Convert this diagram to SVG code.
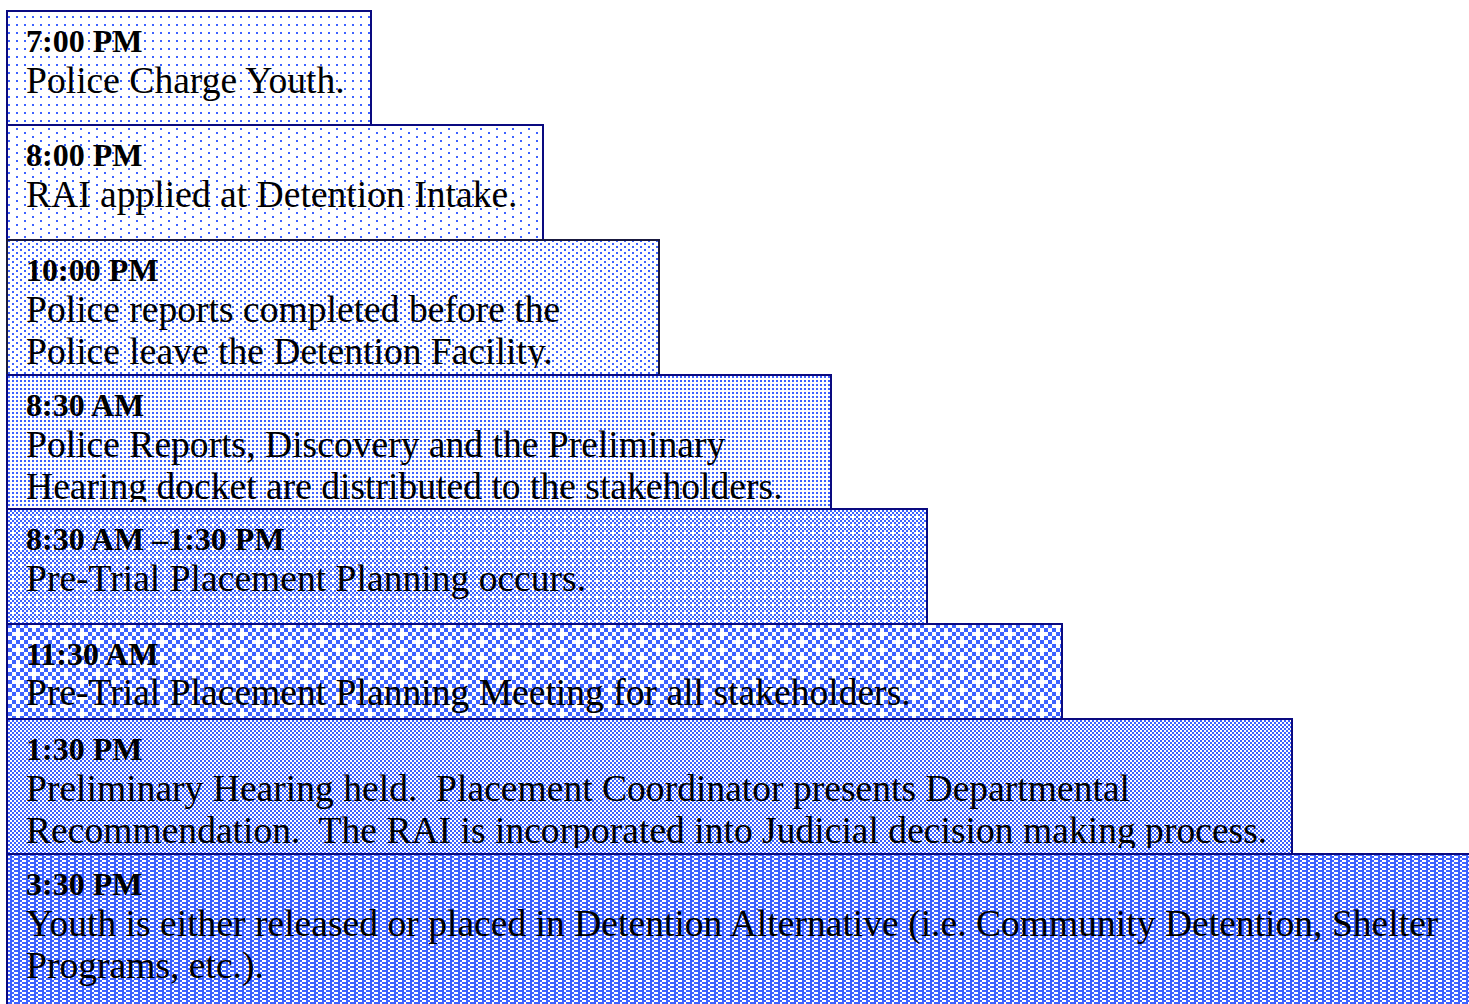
<svg xmlns="http://www.w3.org/2000/svg" width="1469" height="1004" viewBox="0 0 1469 1004">
<style>
.box{stroke:#0a0a80;stroke-width:2}
.b3{stroke:#1a1a40}
.t{font-family:"Liberation Serif","Times New Roman",serif;font-weight:bold;font-size:32px;fill:#000}
.d{font-family:"Liberation Serif","Times New Roman",serif;font-size:37.6px;fill:#000;white-space:pre}
</style>
<defs>
<pattern id="p1" patternUnits="userSpaceOnUse" width="8" height="8"><rect width="8" height="8" fill="#fff"/><rect x="0" y="0" width="2" height="2" fill="#3d62ff"/></pattern>
<pattern id="p2" patternUnits="userSpaceOnUse" width="16" height="8"><rect width="16" height="8" fill="#fff"/><rect x="0" y="0" width="2" height="2" fill="#3d62ff"/><rect x="8" y="4" width="2" height="2" fill="#3d62ff"/></pattern>
<pattern id="p3" patternUnits="userSpaceOnUse" width="8" height="6"><rect width="8" height="6" fill="#fff"/><rect x="0" y="0" width="2" height="2" fill="#3d62ff"/><rect x="4" y="3" width="2" height="2" fill="#3d62ff"/></pattern>
<pattern id="p4" patternUnits="userSpaceOnUse" width="4" height="4"><rect width="4" height="4" fill="#fff"/><rect x="0" y="0" width="2" height="2" fill="#3d62ff"/></pattern>
<pattern id="p5" patternUnits="userSpaceOnUse" width="8" height="8"><rect width="8" height="8" fill="#fff"/><g fill="#3d62ff"><rect x="0" y="0" width="2" height="2"/><rect x="4" y="0" width="2" height="2"/><rect x="2" y="2" width="2" height="2"/><rect x="6" y="2" width="2" height="2"/><rect x="0" y="4" width="2" height="2"/><rect x="2" y="6" width="2" height="2"/><rect x="6" y="6" width="2" height="2"/></g></pattern>
<pattern id="p6" patternUnits="userSpaceOnUse" width="32" height="16"><rect width="32" height="16" fill="#fff"/>
<g fill="#3d62ff">
<rect x="8" y="0" width="4" height="4"/><rect x="16" y="0" width="4" height="4"/><rect x="24" y="0" width="4" height="4"/>
<rect x="4" y="4" width="4" height="4"/><rect x="12" y="4" width="4" height="4"/><rect x="20" y="4" width="4" height="4"/><rect x="28" y="4" width="4" height="4"/>
<rect x="0" y="8" width="4" height="4"/><rect x="8" y="8" width="4" height="4"/><rect x="24" y="8" width="4" height="4"/>
<rect x="4" y="12" width="4" height="4"/><rect x="12" y="12" width="4" height="4"/><rect x="20" y="12" width="4" height="4"/><rect x="28" y="12" width="4" height="4"/>
</g></pattern>
<pattern id="p7" patternUnits="userSpaceOnUse" width="4" height="4"><rect width="4" height="4" fill="#fff"/><rect x="0" y="0" width="2" height="2" fill="#3d62ff"/><rect x="2" y="2" width="2" height="2" fill="#3d62ff"/></pattern>
<pattern id="p8" patternUnits="userSpaceOnUse" width="8" height="4"><rect width="8" height="4" fill="#3d62ff"/><rect x="0" y="0" width="2" height="2" fill="#fff"/><rect x="4" y="2" width="2" height="2" fill="#fff"/><rect x="6" y="0" width="2" height="2" fill="#fff"/></pattern>
<clipPath id="c1"><rect x="8" y="12" width="362" height="106"/></clipPath>
<clipPath id="c2"><rect x="8" y="126" width="534" height="107"/></clipPath>
<clipPath id="c3"><rect x="8" y="241" width="650" height="127"/></clipPath>
<clipPath id="c4"><rect x="8" y="376" width="822" height="126"/></clipPath>
<clipPath id="c5"><rect x="8" y="510" width="918" height="107"/></clipPath>
<clipPath id="c6"><rect x="8" y="625" width="1053" height="88"/></clipPath>
<clipPath id="c7"><rect x="8" y="720" width="1283" height="128"/></clipPath>
<clipPath id="c8"><rect x="8" y="855" width="1470" height="150"/></clipPath>
</defs>
<g id="connectors"/>
<g id="step1">
<rect class="box" x="7" y="11" width="364" height="114" fill="url(#p1)"/>
<g clip-path="url(#c1)"><text class="t" x="26" y="52">7:00 PM</text><text class="d" x="26" y="93">Police Charge Youth.</text></g>
</g>
<g id="step2">
<rect class="box" x="7" y="125" width="536" height="115" fill="url(#p2)"/>
<g clip-path="url(#c2)"><text class="t" x="26" y="166">8:00 PM</text><text class="d" x="26" y="207">RAI applied at Detention Intake.</text></g>
</g>
<g id="step3">
<rect class="box b3" x="7" y="240" width="652" height="135" fill="url(#p3)"/>
<g clip-path="url(#c3)"><text class="t" x="26" y="281">10:00 PM</text><text class="d" x="26" y="322">Police reports completed before the</text><text class="d" x="26" y="364">Police leave the Detention Facility.</text></g>
</g>
<g id="step4">
<rect class="box" x="7" y="375" width="824" height="134" fill="url(#p4)"/>
<g clip-path="url(#c4)"><text class="t" x="26" y="416">8:30 AM</text><text class="d" x="26" y="457">Police Reports, Discovery and the Preliminary</text><text class="d" x="26" y="499">Hearing docket are distributed to the stakeholders.</text></g>
</g>
<g id="step5">
<rect class="box" x="7" y="509" width="920" height="115" fill="url(#p5)"/>
<g clip-path="url(#c5)"><text class="t" x="26" y="550">8:30 AM –1:30 PM</text><text class="d" x="26" y="591">Pre-Trial Placement Planning occurs.</text></g>
</g>
<g id="step6">
<rect class="box" x="7" y="624" width="1055" height="95" fill="url(#p6)"/>
<g clip-path="url(#c6)"><text class="t" x="26" y="665">11:30 AM</text><text class="d" x="26" y="705">Pre-Trial Placement Planning Meeting for all stakeholders.</text></g>
</g>
<g id="step7">
<rect class="box" x="7" y="719" width="1285" height="135" fill="url(#p7)"/>
<g clip-path="url(#c7)"><text class="t" x="26" y="760">1:30 PM</text><text class="d" x="26" y="801">Preliminary Hearing held.  Placement Coordinator presents Departmental</text><text class="d" x="26" y="843">Recommendation.  The RAI is incorporated into Judicial decision making process.</text></g>
</g>
<g id="step8">
<rect class="box" x="7" y="854" width="1470" height="160" fill="url(#p8)"/>
<g clip-path="url(#c8)"><text class="t" x="26" y="895">3:30 PM</text><text class="d" x="26" y="936">Youth is either released or placed in Detention Alternative (i.e. Community Detention, Shelter</text><text class="d" x="26" y="978">Programs, etc.).</text></g>
</g>
</svg>
